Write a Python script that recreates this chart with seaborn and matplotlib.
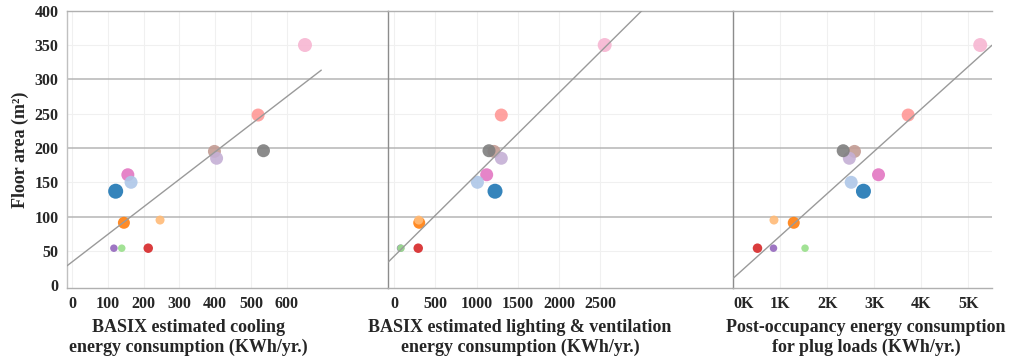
import numpy as np
import pandas as pd
import matplotlib
matplotlib.use("Agg")
import matplotlib.pyplot as plt
import seaborn as sns
from matplotlib.ticker import FuncFormatter

sns.set_theme(style="white")
plt.rcParams["font.family"] = ["Liberation Serif", "DejaVu Serif"]
plt.rcParams["font.weight"] = "bold"

# Datos por vivienda (un color por casa)
homes = ["H01", "H02", "H03", "H04", "H05", "H06", "H07",
         "H08", "H09", "H10", "H11", "H12", "H13"]
home_colors = ["#f7b6d2", "#ff9896", "#c49c94", "#c5b0d5", "#7f7f7f", "#e377c2", "#aec7e8",
               "#1f77b4", "#ff7f0e", "#ffbb78", "#9467bd", "#98df8a", "#d62728"]
floor_area = [350, 248, 195, 185, 196, 161, 150, 137, 91, 95, 54, 54, 54]
cooling = [651, 520, 398, 404, 535, 156, 165, 122, 145, 246, 117, 139, 213]
lighting = [2552, 1300, 1211, 1300, 1151, 1123, 1011, 1224, 306, 300, 80, 85, 294]
plug = [5250, 3720, 2580, 2470, 2340, 3090, 2510, 2770, 1290, 870, 860, 1530, 520]
dot_size = [14, 13, 13, 13, 13, 13, 13, 15, 12, 9, 7.5, 7.5, 9.5]

df = pd.DataFrame({"home": homes, "floor_area": floor_area, "cooling": cooling,
                   "lighting": lighting, "plug": plug, "dot": dot_size})
palette = dict(zip(homes, home_colors))

panels = [
    ("cooling", "BASIX estimated cooling\nenergy consumption (KWh/yr.)",
     (-14, 883), np.arange(0, 601, 100), 0.377, 1.07),
    ("lighting", "BASIX estimated lighting & ventilation\nenergy consumption (KWh/yr.)",
     (-72, 4106), np.arange(0, 2501, 500), 0.383, None),
    ("plug", "Post-occupancy energy consumption\nfor plug loads (KWh/yr.)",
     (0, 5500), np.arange(0, 5001, 1000), 0.514, None),
]
lefts = [67, 388, 733]
rights = [388, 733, 992]
W, H = 1017, 361
top_px, bot_px = 10.7, 288

fig = plt.figure(figsize=(W / 100, H / 100), dpi=100)

for i, (col, label, xlim, xticks, lab_x, line_ext) in enumerate(panels):
    ax = fig.add_axes([lefts[i] / W, 1 - bot_px / H,
                       (rights[i] - lefts[i]) / W, (bot_px - top_px) / H])

    # líneas de cuadrícula
    ax.set_xticks(xticks)
    ax.grid(axis="x", color="#f0f0f0", lw=0.8)
    for yy in np.arange(50, 400, 100):
        ax.axhline(yy, color="#f0f0f0", lw=0.8, zorder=0)
    for yy in [100, 200, 300]:
        ax.axhline(yy, color="#b5b5b5", lw=1.1, zorder=1)

    sns.scatterplot(data=df, x=col, y="floor_area", hue="home", palette=palette,
                    s=(df["dot"] * 0.72) ** 2, linewidth=0, alpha=0.9,
                    legend=False, ax=ax, zorder=2)

    # línea de tendencia
    m, b = np.polyfit(df[col], df["floor_area"], 1)
    x_end = df[col].max() * line_ext if line_ext else xlim[1]
    xs = np.array([xlim[0], x_end])
    ax.plot(xs, m * xs + b, color="#9a9a9a", lw=1.0, zorder=3)

    ax.set_xlim(*xlim)
    ax.set_ylim(-4, 400)
    ax.set_yticks(np.arange(0, 401, 50))

    if col == "plug":
        ax.xaxis.set_major_formatter(FuncFormatter(lambda v, p: f"{int(v / 1000)}K"))

    ax.tick_params(axis="both", length=0, labelsize=11.5, pad=6)
    for t in ax.get_xticklabels() + ax.get_yticklabels():
        t.set_fontweight("bold")
    if col == "plug":
        ax.get_xticklabels()[0].set_horizontalalignment("left")

    if i == 0:
        ax.set_ylabel("Floor area (m²)", fontsize=13, fontweight="bold", labelpad=4)
    else:
        ax.set_ylabel("")
        ax.set_yticklabels([])

    ax.set_xlabel(label, fontsize=13, fontweight="bold", linespacing=1.25)
    ax.xaxis.set_label_coords(lab_x, -0.11)
    ax.xaxis.label.set_va("top")

    for side in ["top", "bottom"]:
        ax.spines[side].set_color("#b0b0b0")
        ax.spines[side].set_linewidth(1.0)
    ax.spines["right"].set_visible(False)
    ax.spines["left"].set_color("#c0c0c0" if i == 0 else "#8c8c8c")
    ax.spines["left"].set_linewidth(1.0)

plt.savefig("out.png", dpi=100)
